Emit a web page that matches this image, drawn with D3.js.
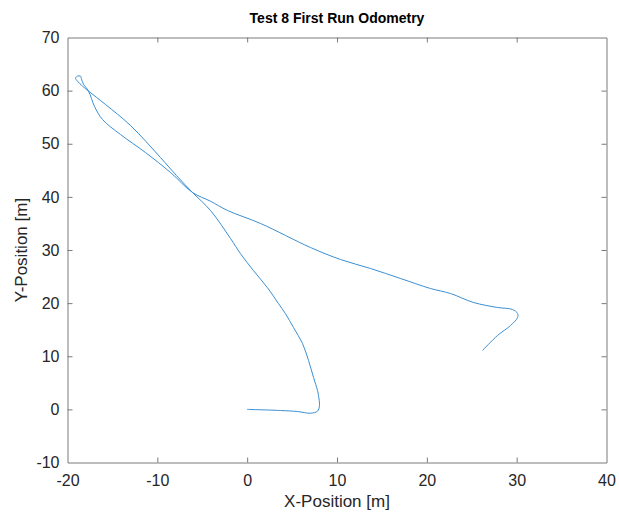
<!DOCTYPE html>
<html>
<head>
<meta charset="utf-8">
<script src="https://cdn.jsdelivr.net/npm/d3@7"></script>
<style>
  html, body { margin: 0; padding: 0; background: #fff; }
  svg { display: block; }
</style>
</head>
<body>
<svg id="chart" width="619" height="517"></svg>
<script>
// ---- data ----
const title = "Test 8 First Run Odometry";
const xLabel = "X-Position [m]";
const yLabel = "Y-Position [m]";
const xTicks = [-20, -10, 0, 10, 20, 30, 40];
const yTicks = [-10, 0, 10, 20, 30, 40, 50, 60, 70];
const xDomain = [-20, 40];
const yDomain = [-10, 70];

// odometry trace (x, y) in metres, in path order
const pathX = [0, 3.7, 5.6, 7.05, 7.83, 8.05, 7.94, 7.83, 7.39, 6.83, 6.16, 5.16, 4.27, 3.49, 2.26, 0.71, -0.74, -1.85,
  -4.08, -6.08, -7.87, -9.65, -12.99, -15.77, -17.66,
  -18.33, -18.89, -19.11, -18.89, -18.55, -18.44, -18.22, -17.66,
  -16.99, -16.10, -14.10, -11.32, -8.53, -6.08,
  -4.1, -2.19, 1.49, 7.05, 10.39, 13.73, 17.07, 20.41, 22.64, 25.20, 27.87, 29.54, 30.10, 30.10, 29.32, 27.87, 26.20];
const pathY = [0, -0.21, -0.4, -0.72, -0.34, 0.73, 2.6, 3.55, 6.0, 9.2, 12.4, 15.4, 18.0, 19.9, 22.9, 26.1, 29.3, 32.16,
  37.44, 40.82, 44.02, 47.41, 53.44, 57.39, 59.91,
  60.85, 61.79, 62.35, 62.73, 62.73, 62.16, 61.22, 59.91,
  57.01, 54.56, 51.74, 48.35, 44.59, 40.82,
  39.2, 37.44, 34.99, 30.47, 28.21, 26.52, 24.64, 22.75, 21.81, 20.12, 19.18, 18.80, 18.05, 17.29, 15.79, 13.91, 11.08];

// ---- layout ----
const svg = d3.select("#chart");
const L = 67.5, R = 606.5, T = 37.5, B = 462.5;
const x = d3.scaleLinear().domain(xDomain).range([L, R]);
const y = d3.scaleLinear().domain(yDomain).range([B, T]);
const axisColor = "#7a7a7a";
const textColor = "#262626";
const font = "'Liberation Sans', Arial, Helvetica, sans-serif";

// data line
const pts = pathX.map((v, i) => [v, pathY[i]]);
svg.append("path")
  .datum(pts)
  .attr("fill", "none")
  .attr("stroke", "#3a8fd3")
  .attr("stroke-width", 1)
  .attr("stroke-linejoin", "round")
  .attr("d", d3.line().x(d => x(d[0])).y(d => y(d[1])).curve(d3.curveCatmullRom.alpha(0.5)));

// axes (MATLAB-style box with inward ticks)
function styleAxis(g) {
  g.selectAll(".domain").attr("stroke", axisColor).attr("stroke-width", 1);
  g.selectAll(".tick line").attr("stroke", axisColor).attr("stroke-width", 1);
  g.selectAll(".tick text").attr("fill", textColor).style("font-family", font).style("font-size", "16px");
}
const fmt = d => String(d);
const tickLen = 5;
const gxB = svg.append("g").attr("transform", `translate(0,${B})`)
  .call(d3.axisBottom(x).tickValues(xTicks).tickSizeInner(-tickLen).tickSizeOuter(0).tickPadding(12).tickFormat(fmt));
styleAxis(gxB);
const gxT = svg.append("g").attr("transform", `translate(0,${T})`)
  .call(d3.axisTop(x).tickValues(xTicks).tickSizeInner(-tickLen).tickSizeOuter(0).tickFormat(""));
styleAxis(gxT);
const gyL = svg.append("g").attr("transform", `translate(${L},0)`)
  .call(d3.axisLeft(y).tickValues(yTicks).tickSizeInner(-tickLen).tickSizeOuter(0).tickPadding(8).tickFormat(fmt));
styleAxis(gyL);
const gyR = svg.append("g").attr("transform", `translate(${R},0)`)
  .call(d3.axisRight(y).tickValues(yTicks).tickSizeInner(-tickLen).tickSizeOuter(0).tickFormat(""));
styleAxis(gyR);
// remove end ticks that overlap the box corners
[gxB, gxT].forEach(g => g.selectAll(".tick line").filter(d => d === xDomain[0] || d === xDomain[1]).remove());
[gyL, gyR].forEach(g => g.selectAll(".tick line").filter(d => d === yDomain[0] || d === yDomain[1]).remove());

// title and labels
svg.append("text")
  .attr("x", (L + R) / 2).attr("y", 23)
  .attr("text-anchor", "middle")
  .style("font-family", font).style("font-size", "14px").style("font-weight", "bold")
  .attr("fill", "#000")
  .text(title);
svg.append("text")
  .attr("x", (L + R) / 2).attr("y", 507)
  .attr("text-anchor", "middle")
  .style("font-family", font).style("font-size", "17px")
  .attr("fill", textColor)
  .text(xLabel);
svg.append("text")
  .attr("transform", `translate(27,${(T + B) / 2}) rotate(-90)`)
  .attr("text-anchor", "middle")
  .style("font-family", font).style("font-size", "17px")
  .attr("fill", textColor)
  .text(yLabel);
</script>
</body>
</html>
